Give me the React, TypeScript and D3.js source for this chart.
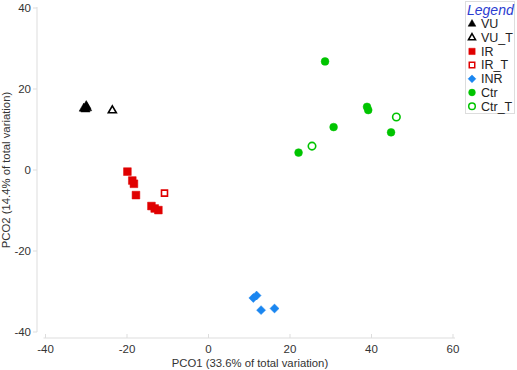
import React from "react";
import * as d3 from "d3";

// sample groups
const vuX = [-30.6, -30.0, -30.2, -29.8];
const vuY = [15.2, 15.8, 15.0, 15.3];
const vutX = [-23.6];
const vutY = [14.7];
const irX = [-19.9, -18.7, -18.3, -17.8, -14.0, -13.2, -12.3];
const irY = [-0.4, -2.6, -3.4, -6.2, -8.9, -9.5, -9.9];
const irtX = [-10.8];
const irtY = [-5.7];
const inrX = [11.0, 11.8, 12.9, 16.2];
const inrY = [-31.6, -31.0, -34.6, -34.2];
const ctrX = [28.6, 38.9, 39.2, 30.7, 22.1, 44.8];
const ctrY = [26.8, 15.6, 14.8, 10.6, 4.3, 9.3];
const ctrtX = [25.4, 46.1];
const ctrtY = [5.9, 13.1];

const xTicks = [-40, -20, 0, 20, 40, 60];
const yTicks = [-40, -20, 0, 20, 40];

const groups = [
  { name: "VU", xs: vuX, ys: vuY, shape: d3.symbolTriangle, rot: 0, color: "#000000", open: false, size: 38, lsize: 26 },
  { name: "VU_T", xs: vutX, ys: vutY, shape: d3.symbolTriangle, rot: 0, color: "#000000", open: true, size: 28, lsize: 22 },
  { name: "IR", xs: irX, ys: irY, shape: d3.symbolSquare, rot: 0, color: "#e00000", open: false, size: 60, lsize: 40 },
  { name: "IR_T", xs: irtX, ys: irtY, shape: d3.symbolSquare, rot: 0, color: "#e00000", open: true, size: 36, lsize: 30 },
  { name: "INR", xs: inrX, ys: inrY, shape: d3.symbolSquare, rot: 45, color: "#1a86f0", open: false, size: 40, lsize: 30 },
  { name: "Ctr", xs: ctrX, ys: ctrY, shape: d3.symbolCircle, rot: 0, color: "#00c400", open: false, size: 48, lsize: 36 },
  { name: "Ctr_T", xs: ctrtX, ys: ctrtY, shape: d3.symbolCircle, rot: 0, color: "#00c400", open: true, size: 44, lsize: 34 },
];

const W = 517;
const H = 370;
const font = "'Liberation Sans', Arial, sans-serif";

const App: React.FC = () => {
  const x = d3.scaleLinear().domain([-40, 60]).range([45.5, 453]);
  const y = d3.scaleLinear().domain([-40, 40]).range([332, 8]);
  const axisY = 338;
  const axisX = 37;

  return (
    <svg
      width={W}
      height={H}
      style={{ position: "absolute", left: 0, top: 0, background: "#fff" }}
      fontFamily={font}
    >
      {/* y axis */}
      <line x1={axisX} x2={axisX} y1={y(40) - 1} y2={y(-40)} stroke="#dddddd" />
      {yTicks.map((t) => (
        <g key={"y" + t}>
          <line x1={axisX - 4} x2={axisX} y1={y(t)} y2={y(t)} stroke="#dddddd" />
          <text x={axisX - 6} y={y(t)} dy="0.35em" textAnchor="end" fontSize={11.5} fill="#333">
            {t}
          </text>
        </g>
      ))}
      {/* x axis */}
      <line x1={x(-40) - 2} x2={x(60) + 2} y1={axisY} y2={axisY} stroke="#dddddd" />
      {xTicks.map((t) => (
        <g key={"x" + t}>
          <line x1={x(t)} x2={x(t)} y1={axisY - 4} y2={axisY} stroke="#dddddd" />
          <text x={x(t)} y={353} textAnchor="middle" fontSize={11.5} fill="#333">
            {t}
          </text>
        </g>
      ))}
      <text x={250} y={367} textAnchor="middle" fontSize={11.3} fill="#333">
        PCO1 (33.6% of total variation)
      </text>
      <text
        transform={`translate(10,${y(0)}) rotate(-90)`}
        textAnchor="middle"
        fontSize={11.3}
        fill="#333"
      >
        PCO2 (14.4% of total variation)
      </text>

      {/* points */}
      {groups.map((g) => {
        const path = d3.symbol().type(g.shape).size(g.size)() || "";
        return g.xs.map((v, i) => (
          <path
            key={g.name + i}
            d={path}
            transform={`translate(${x(v)},${y(g.ys[i])}) rotate(${g.rot})`}
            fill={g.open ? "#fff" : g.color}
            stroke={g.color}
            strokeWidth={g.open ? 1.6 : 0.5}
          />
        ));
      })}

      {/* legend */}
      <g>
        <rect x={465.5} y={1.5} width={49} height={112} fill="#fff" stroke="#dddddd" />
        <text x={467} y={15} fontSize={14} fontStyle="italic" fill="#2b3cd0">
          Legend
        </text>
        {groups.map((g, i) => {
          const cy = 24 + i * 13.7;
          const path = d3.symbol().type(g.shape).size(g.lsize)() || "";
          return (
            <g key={"lg" + g.name}>
              <path
                d={path}
                transform={`translate(472,${cy}) rotate(${g.rot})`}
                fill={g.open ? "#fff" : g.color}
                stroke={g.color}
                strokeWidth={g.open ? 1.5 : 0.5}
              />
              <text x={481} y={cy} dy="0.35em" fontSize={12.5} fill="#222">
                {g.name}
              </text>
            </g>
          );
        })}
      </g>
    </svg>
  );
};

export default App;
